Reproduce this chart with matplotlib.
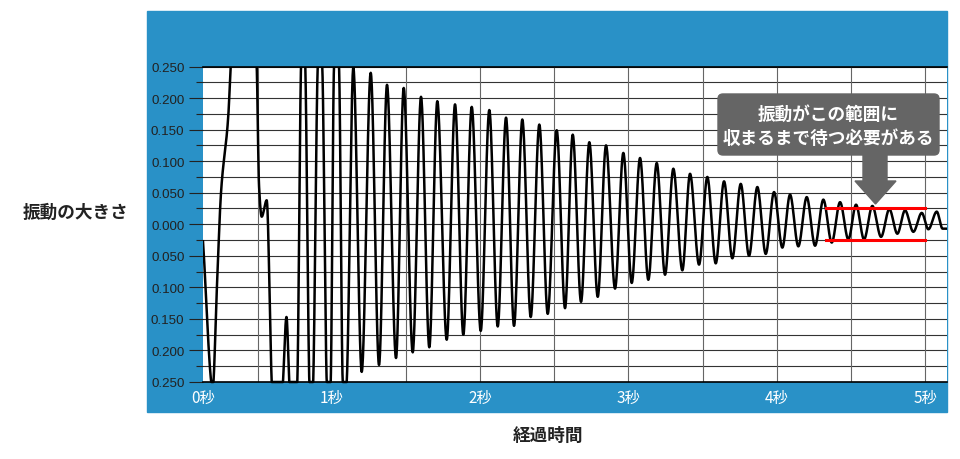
# Damped vibration chart: wait until the oscillation settles inside the band.

import numpy as np
import matplotlib.pyplot as plt
from matplotlib.patches import Rectangle, FancyBboxPatch, Polygon
from matplotlib.transforms import IdentityTransform

plt.rcParams['font.family'] = ['Noto Sans CJK JP', 'DejaVu Sans']

# curve knots (seconds, amplitude); values beyond +-0.25 are off-chart
times = [0.1315, 0.1969, 0.2252, 0.2529, 0.3021, 0.3183, 0.4059, 0.4936, 0.5091, 0.5273,
         0.5610, 0.5948, 0.6325, 0.6709, 0.6942, 0.7134, 0.7404, 0.7674, 0.7923, 0.8072,
         0.8213, 0.8483, 0.8611, 0.8746, 0.9049, 0.9204, 0.9359, 0.9656, 0.9791, 0.9926,
         1.0148, 1.0317, 1.0486, 1.0735, 1.0870, 1.1005,
         1.1450, 1.2016, 1.2623, 1.3183, 1.3722, 1.4329, 1.4848, 1.5455, 1.6015, 1.6574,
         1.7114, 1.7748, 1.8308, 1.8867, 1.9434, 2.0041, 2.0620, 2.1187, 2.1747, 2.2286,
         2.2846, 2.3412, 2.3992, 2.4558, 2.5165, 2.5725, 2.6244, 2.6804, 2.7364, 2.7930,
         2.8490, 2.9097, 2.9656, 3.0223, 3.0783, 3.1342, 3.1908, 3.2468, 3.3028, 3.3635,
         3.4154, 3.4761, 3.5320, 3.5887, 3.6447, 3.7006, 3.7573, 3.8132, 3.8692, 3.9258,
         3.9818, 4.0378, 4.0897, 4.1456, 4.2023, 4.2583, 4.3142, 4.3709, 4.4269, 4.4828,
         4.5347, 4.5887, 4.6447, 4.7033, 4.7593, 4.8132, 4.8651, 4.9211, 4.9778, 5.0223,
         5.0789, 5.1180, 5.1480]
amplitude = [-0.027, -0.26, -0.10, 0.05, 0.172, 0.25, 0.55, 0.25, 0.062, 0.012,
             0.038, -0.25, -0.40, -0.25, -0.147, -0.25, -0.36, -0.25, 0.25, 0.34,
             0.25, -0.25, -0.33, -0.25, 0.25, 0.32, 0.25, -0.25, -0.31, -0.25,
             0.25, 0.30, 0.25, -0.25, -0.29, -0.25,
             0.248, -0.234, 0.240, -0.223, 0.221, -0.212, 0.216, -0.203, 0.202, -0.195,
             0.195, -0.183, 0.190, -0.175, 0.186, -0.169, 0.181, -0.162, 0.169, -0.161,
             0.166, -0.147, 0.158, -0.142, 0.149, -0.133, 0.142, -0.123, 0.130, -0.115,
             0.125, -0.102, 0.113, -0.093, 0.105, -0.088, 0.097, -0.080, 0.088, -0.073,
             0.080, -0.064, 0.075, -0.062, 0.068, -0.054, 0.064, -0.050, 0.059, -0.047,
             0.051, -0.037, 0.047, -0.035, 0.043, -0.034, 0.039, -0.029, 0.035, -0.024,
             0.031, -0.024, 0.029, -0.020, 0.024, -0.015, 0.022, -0.012, 0.018, -0.008,
             0.020, -0.007, -0.007]

x_ticks = [0.1315, 1, 2, 3, 4, 5]
x_labels = ['0秒', '1秒', '2秒', '3秒', '4秒', '5秒']
x_grid = [0.5, 1.5, 2.0, 2.5, 3.0, 3.5, 4.0, 4.5, 5.0]
y_major = [-0.25, -0.2, -0.15, -0.1, -0.05, 0.0, 0.05, 0.1, 0.15, 0.2, 0.25]
y_minor = [-0.225, -0.175, -0.125, -0.075, -0.025, 0.025, 0.075, 0.125, 0.175, 0.225]
y_labels = ['%.3f' % abs(v) for v in y_major]
band_start, band_end, band_half = 4.332, 5.0, 0.025

note_lines = ['振動がこの範囲に', '収まるまで待つ必要がある']
blue = '#2991c7'
gray = '#656565'


def smooth(t, v, n=30):
    # monotone cubic (Fritsch-Carlson) through the knots
    t = np.asarray(t, float); v = np.asarray(v, float)
    h = np.diff(t); d = np.diff(v) / h
    m = np.zeros_like(v)
    for k in range(1, len(v) - 1):
        if d[k - 1] * d[k] > 0:
            w1 = 2 * h[k] + h[k - 1]; w2 = h[k] + 2 * h[k - 1]
            m[k] = (w1 + w2) / (w1 / d[k - 1] + w2 / d[k])
    m[0] = d[0]; m[-1] = d[-1]
    xs, ys = [], []
    s = np.linspace(0, 1, n, endpoint=False)
    for k in range(len(h)):
        h00 = 2 * s**3 - 3 * s**2 + 1; h10 = s**3 - 2 * s**2 + s
        h01 = -2 * s**3 + 3 * s**2; h11 = s**3 - s**2
        xs.append(t[k] + s * h[k])
        ys.append(h00 * v[k] + h10 * h[k] * m[k] + h01 * v[k + 1] + h11 * h[k] * m[k + 1])
    xs.append([t[-1]]); ys.append([v[-1]])
    return np.concatenate(xs), np.concatenate(ys)


def px(x, y):
    # reference pixel -> display coords (origin bottom-left)
    return (x, 460 - y)


fig = plt.figure(figsize=(9.6, 4.6), dpi=100)
fig.patches.append(Rectangle((147 / 960, 1 - 413 / 460), 800 / 960, 401 / 460,
                             transform=fig.transFigure, color=blue, zorder=-5))
ax = fig.add_axes([203 / 960, 1 - 383 / 460, 744 / 960, 315.5 / 460])
ax.set_facecolor('white')

for y in y_major + y_minor:
    ax.axhline(y, color='#333333', lw=0.8, zorder=1)
for x in x_grid:
    ax.axvline(x, color='#666666', lw=0.8, zorder=1)

# bottom: the curve runs flat along the floor; top: it simply leaves the chart
xs, ys = smooth(times, amplitude)
line, = ax.plot(xs, np.maximum(ys, -0.25), color='black', lw=1.8, zorder=3)
line.set_clip_path(Rectangle((0, -0.02), 1, 1.02, transform=ax.transAxes))

ax.plot([band_start, band_end], [band_half, band_half], color='#ff0000', lw=2.2, zorder=4)
ax.plot([band_start, band_end], [-band_half, -band_half], color='#ff0000', lw=2.2, zorder=4)

ax.set_xlim(times[0], times[-1])
ax.set_ylim(-0.25, 0.25)
ax.set_xticks(x_ticks, x_labels)
ax.set_yticks(y_major, y_labels, fontfamily='Liberation Sans')
ax.set_yticks(y_minor, minor=True)
ax.tick_params(axis='x', length=0, pad=5, labelsize=11, labelcolor='white')
ax.tick_params(axis='y', which='major', length=10, width=0.8, color='#222222', pad=3.4,
               labelsize=9.6, labelcolor='#222222')
ax.tick_params(axis='y', which='minor', length=5, width=0.8, color='#222222')

for side in ['left', 'right']:
    ax.spines[side].set_visible(False)
for side in ['top', 'bottom']:
    ax.spines[side].set_color('black')
    ax.spines[side].set_linewidth(1.2)

# callout box and arrow
box = FancyBboxPatch(px(718, 156), 221, 61, boxstyle='round,pad=0,rounding_size=5',
                     transform=IdentityTransform(), color=gray, zorder=5)
fig.patches.append(box)
arrow = Polygon([px(863, 155), px(887, 155), px(887, 182), px(896, 182), px(875.5, 205),
                 px(855, 182), px(863, 182)], closed=True, transform=IdentityTransform(),
                color=gray, zorder=5)
fig.patches.append(arrow)
fig.text(828.5 / 960, 1 - 115 / 460, note_lines[0], color='white', fontsize=12.7,
         fontweight='bold', ha='center', va='center', zorder=6)
fig.text(828.5 / 960, 1 - 139.3 / 460, note_lines[1], color='white', fontsize=12.7,
         fontweight='bold', ha='center', va='center', zorder=6)

fig.text(75.5 / 960, 1 - 213 / 460, '振動の大きさ', fontsize=12.7, fontweight='bold',
         color='#222222', ha='center', va='center')
fig.text(548 / 960, 1 - 436 / 460, '経過時間', fontsize=12.7, fontweight='bold',
         color='#222222', ha='center', va='center')

fig.savefig('out.png', dpi=100)
